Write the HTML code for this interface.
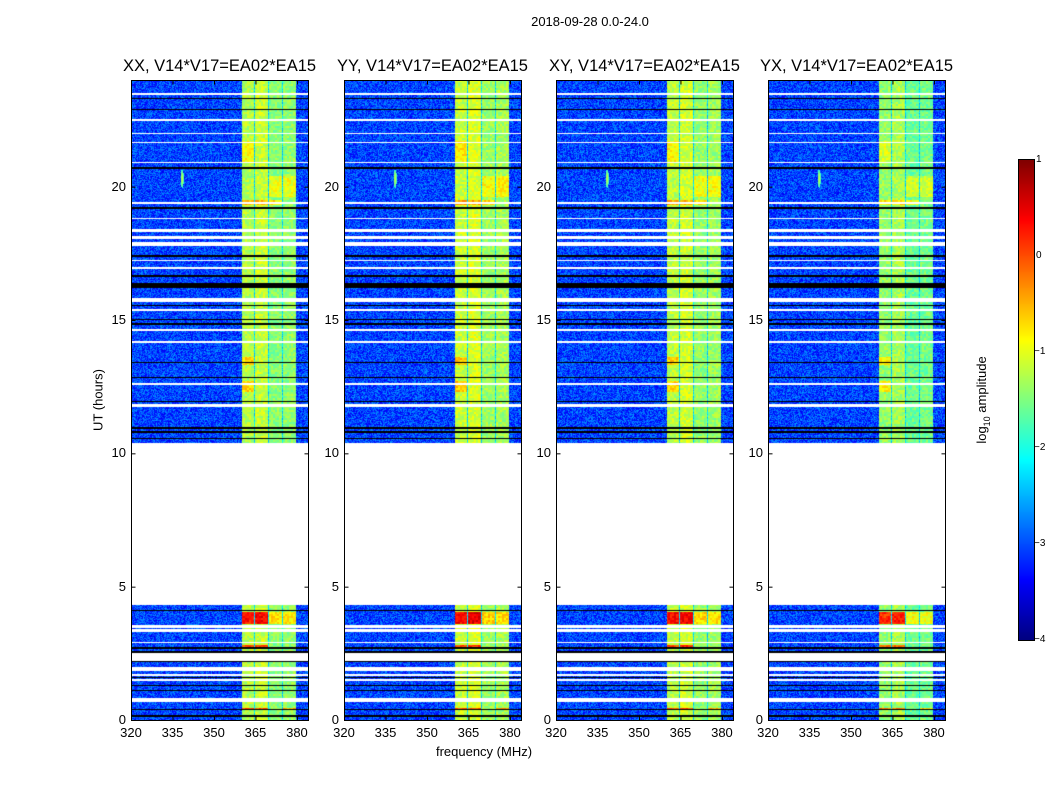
<!DOCTYPE html>
<html><head><meta charset="utf-8"><style>
body{margin:0;background:#fff;width:1050px;height:800px;position:relative;overflow:hidden;font-family:"Liberation Sans",sans-serif;}
.t{position:absolute;white-space:nowrap;color:#000;}
canvas{position:absolute;}
</style></head><body>
<div class="t" style="left:0;width:1180px;text-align:center;top:14px;font-size:13px;">2018-09-28 0.0-24.0</div>
<div class="t" style="left:98px;top:400px;font-size:13px;transform:translate(-50%,-50%) rotate(-90deg);">UT (hours)</div>
<div class="t" style="left:484px;top:744px;font-size:13px;transform:translateX(-50%);">frequency (MHz)</div>
<div class="t" style="left:983px;top:400px;font-size:13px;transform:translate(-50%,-50%) rotate(-90deg);">log<sub style="font-size:9px">10</sub> amplitude</div>
<div id="root"></div>
<script>
// ---- data ----
const panelTitles = ["XX, V14*V17=EA02*EA15","YY, V14*V17=EA02*EA15","XY, V14*V17=EA02*EA15","YX, V14*V17=EA02*EA15"];
const panelBandBoost = [0.0, 0.1, 0.05, -0.15];
const xTicks = [320,335,350,365,380];
const yTicks = [0,5,10,15,20];
const cbTicks = [1,0,-1,-2,-3,-4];
const dataGap = [4.3, 10.4];
const dataRange = [0.0, 24.0];
// white (flagged) rows: [hour, width]
const whiteRows = [[23.47,0.05],[22.5,0.05],[22.0,0.05],[21.66,0.05],[20.91,0.05],[19.4,0.08],[18.8,0.05],[18.35,0.12],[18.1,0.1],[17.85,0.13],[17.22,0.05],[16.95,0.05],[15.75,0.15],[15.37,0.05],[14.62,0.05],[14.17,0.1],[12.6,0.06],[11.8,0.1],[3.5,0.1],[3.35,0.1],[2.9,0.05],[2.35,0.3],[1.92,0.16],[1.7,0.07],[1.5,0.1],[0.75,0.12]];
// black rows: [hour, width]
const blackRows = [[23.3,0.04],[22.9,0.04],[20.7,0.04],[19.2,0.04],[17.4,0.04],[16.65,0.04],[16.3,0.2],[15.55,0.05],[15.03,0.04],[14.85,0.04],[13.4,0.04],[12.85,0.05],[11.95,0.04],[10.95,0.04],[10.8,0.04],[10.57,0.04],[4.12,0.04],[2.7,0.04],[2.55,0.04],[2.2,0.04],[1.6,0.04],[1.3,0.04],[1.1,0.04],[0.4,0.04],[0.15,0.06]];
// subbands (MHz): start, end, level
const subStart = [360,365,370,375];
const subEnd = [364.6,369.6,374.6,379.6];
const subLevel = [-1.25,-1.15,-1.45,-1.4];
const backgroundLevel = -3.05;
const dividerLevel = -2.3;
// bright events: [hourStart, hourEnd, subband index, added level]
const events = [[3.6,4.05,0,1.55],[3.6,4.05,1,1.55],[3.6,4.05,2,0.7],[3.6,4.05,3,0.6],[2.72,2.8,0,1.2],[2.72,2.8,1,1.2],[0.38,0.46,0,1.2],[0.38,0.46,1,1.1],[0.38,0.46,3,0.9],[19.3,19.5,0,0.7],[19.3,19.5,1,0.6],[19.3,19.5,2,0.7],[19.6,20.4,2,0.45],[19.6,20.4,3,0.45],[12.3,12.7,0,0.55],[13.3,13.6,0,0.55],[20.9,21.7,0,0.35]];
// RFI spot: [MHz, hour, level]
const rfi = [338.5, 20.3, -1.2];

// ---- drawing ----
const PX=[131,344,556,768], PY=80, PW=177, PH=640;
const f2x = f => (f-320)/(384-320)*PW;
const h2y = h => PH - (h-dataRange[0])/(dataRange[1]-dataRange[0])*PH;
function jet(t){t=Math.max(0,Math.min(1,t));const c=v=>Math.round(255*Math.max(0,Math.min(1,v)));
 return [c(1.5-Math.abs(4*t-3)),c(1.5-Math.abs(4*t-2)),c(1.5-Math.abs(4*t-1))];}
const v2t = v => (v+4)/5;
function hash(a,b,c){let h=(a*374761393+b*668265263+c*2147483647)|0;h=(h^(h>>>13))*1274126177|0;return ((h^(h>>>16))>>>0)/4294967295;}
const root=document.getElementById('root');
function txt(name,s,x,y,size,align,extra){const d=document.createElement('div');d.className='t';
 
 
 d.textContent=s;d.style.fontSize=size+'px';d.style.left=x+'px';d.style.top=y+'px';
 d.style.transform=align;if(extra)d.style.cssText+=extra;root.appendChild(d);return d;}
function inRows(rows,h){for(const r of rows){if(Math.abs(h-r[0])<=r[1]/2)return true;}return false;}
PX.forEach((x0,p)=>{
 const cv=document.createElement('canvas');cv.width=PW;cv.height=PH;
 cv.style.left=x0+'px';cv.style.top=PY+'px';
 
 
 root.appendChild(cv);
 const ctx=cv.getContext('2d');const img=ctx.createImageData(PW,PH);
 for(let py=0;py<PH;py++){
  const h=(PH-py-0.5)/PH*(dataRange[1]-dataRange[0])+dataRange[0];
  let mode=0;
  if(h>dataGap[0]&&h<dataGap[1])mode=1;else if(inRows(blackRows,h))mode=2;else if(inRows(whiteRows,h))mode=1;
  for(let px=0;px<PW;px++){
   const i=(py*PW+px)*4;let col;
   if(mode===1)col=[255,255,255];else if(mode===2)col=[0,0,0];
   else{
    const f=320+(px+0.5)/PW*64;
    let v=backgroundLevel+(hash(px,py,p)-0.5)*0.9;
    if(f>=subStart[0]&&f<=subEnd[3]){
     let s=-1;for(let k=0;k<4;k++)if(f>=subStart[k]&&f<=subEnd[k])s=k;
     if(s<0)v=dividerLevel+(hash(px,py,p+7)-0.5)*0.6;
     else{v=subLevel[s]+panelBandBoost[p]+(hash(px>>1,py>>1,p+3)-0.5)*0.5;
      for(const e of events){if(e[2]===s&&h>=e[0]&&h<=e[1])v+=e[3];}}
    }
    const dx=(f-rfi[0])/0.6, dy=(h-rfi[1])/0.35;
    if(dx*dx+dy*dy<1)v=Math.max(v,rfi[2]-0.8*(dx*dx+dy*dy));
    col=jet(v2t(v));
   }
   img.data[i]=col[0];img.data[i+1]=col[1];img.data[i+2]=col[2];img.data[i+3]=255;
  }
 }
 ctx.putImageData(img,0,0);
 const s=document.createElementNS('http://www.w3.org/2000/svg','svg');
 s.setAttribute('width',PW+40);s.setAttribute('height',PH+2);
 s.style.position='absolute';s.style.left=(x0-0.5)+'px';s.style.top=(PY-0.5)+'px';s.style.overflow='visible';
 
 
 let g=`<rect x="0.5" y="0.5" width="${PW}" height="${PH}" fill="none" stroke="#000" stroke-width="1"/>`;
 xTicks.forEach(t=>{const x=f2x(t)+0.5;g+=`<line x1="${x}" x2="${x}" y1="${PH+0.5}" y2="${PH-3.5}" stroke="#000"/><line x1="${x}" x2="${x}" y1="0.5" y2="4.5" stroke="#000"/>`;});
 yTicks.forEach(t=>{const y=h2y(t)+0.5;g+=`<line x1="0.5" x2="4.5" y1="${y}" y2="${y}" stroke="#000"/><line x1="${PW+0.5}" x2="${PW-3.5}" y1="${y}" y2="${y}" stroke="#000"/>`;});
 s.innerHTML=g;root.appendChild(s);
 txt('panel-title-'+(p+1),panelTitles[p],x0+PW/2,57,16.5,'translateX(-50%)');
 xTicks.forEach(t=>txt('x-tick-label',String(t),x0+f2x(t),725,13,'translateX(-50%)'));
 yTicks.forEach(t=>txt('y-tick-label',String(t),x0-5,PY+h2y(t)-8,13,'translateX(-100%)'));
});
// colorbar
const CB={x:1019,y:160,w:15,h:480};
const cb=document.createElement('canvas');cb.width=CB.w;cb.height=CB.h;
cb.style.left=CB.x+'px';cb.style.top=CB.y+'px';cb.style.outline='1px solid #000';


root.appendChild(cb);
const cc=cb.getContext('2d');
for(let y=0;y<CB.h;y++){const c=jet(1-(y+0.5)/CB.h);cc.fillStyle=`rgb(${c[0]},${c[1]},${c[2]})`;cc.fillRect(0,y,CB.w,1);}
cbTicks.forEach(t=>{const y=CB.y+(1-(t+4)/5)*CB.h;
 txt('colorbar-tick-label',t<0?'\u2212'+(-t):String(t),t<0?CB.x+CB.w-0:CB.x+CB.w+2,y-6,10,'none');});
</script>
</body></html>
